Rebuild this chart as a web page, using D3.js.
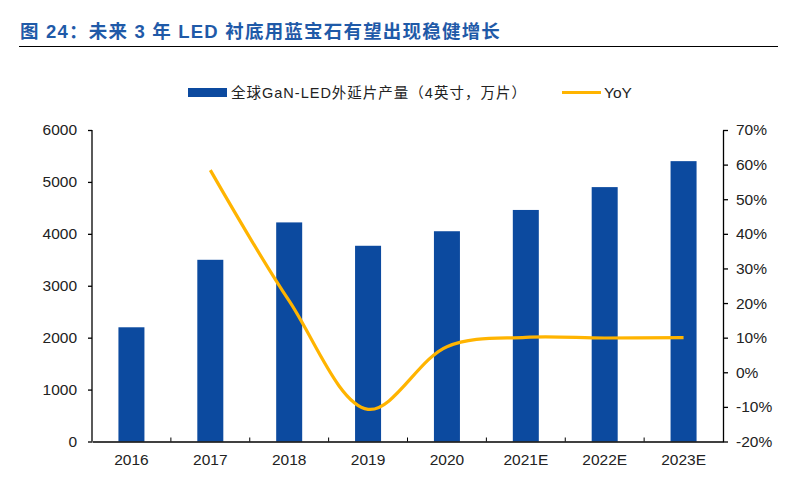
<!DOCTYPE html>
<html><head><meta charset="utf-8">
<script src="https://cdn.jsdelivr.net/npm/d3@7"></script>
<style>body{margin:0;background:#fff;} text{font-family:Arial,"Liberation Sans","Noto Sans CJK SC",sans-serif;}</style>
</head><body><svg id="c" width="795" height="477"></svg>
<script>
const categories = ["2016","2017","2018","2019","2020","2021E","2022E","2023E"];
const output = [2200,3500,4220,3770,4050,4460,4900,5400];
const yoy = [null,58.4,20.6,-10.7,7.4,10.1,9.9,10.0];
const leftTicks = [0,1000,2000,3000,4000,5000,6000];
const rightTicks = [-20,-10,0,10,20,30,40,50,60,70];
const title = "图 24：未来 3 年 LED 衬底用蓝宝石有望出现稳健增长";
const seriesNames = ["全球GaN-LED外延片产量（4英寸，万片）","YoY"];

const svg = d3.select("#c");
const m = {l:92, r:723, t:130, b:441.5};
const xb = d3.scaleBand().domain(categories).range([m.l,m.r]);
const yL = d3.scaleLinear().domain([0,6000]).range([m.b,m.t]);
const yR = d3.scaleLinear().domain([-20,70]).range([m.b,m.t]);

// title
svg.append("text").attr("x",20).attr("y",38).attr("fill","#1F5AA8").attr("font-size",18.5).attr("font-weight","bold")
  .attr("letter-spacing",1.2)
  .attr("font-family","'Noto Sans CJK SC',sans-serif").text(title);
svg.append("line").attr("x1",19).attr("x2",778).attr("y1",46.5).attr("y2",46.5).attr("stroke","#000").attr("stroke-width",1);

// bars
svg.append("g").selectAll("rect").data(output).join("rect")
  .attr("x",(d,i)=>xb(categories[i])+xb.bandwidth()/2-13).attr("width",26)
  .attr("y",d=>yL(d)).attr("height",d=>yL(0)-yL(d)).attr("fill","#0C4A9F");

// axes
const axL = svg.append("g").attr("transform",`translate(${m.l},0)`)
  .call(d3.axisLeft(yL).tickValues(leftTicks).tickSize(4).tickSizeOuter(0).tickFormat(d3.format("d")));
const axR = svg.append("g").attr("transform",`translate(${m.r},0)`)
  .call(d3.axisRight(yR).tickValues(rightTicks).tickSize(5).tickSizeOuter(0).tickFormat(d=>d+"%"));
const axX = svg.append("g").attr("transform",`translate(0,${m.b})`)
  .call(d3.axisBottom(xb).tickSize(0).tickSizeOuter(0));
svg.append("g").selectAll("line").data(categories.slice(1)).join("line")
  .attr("x1",d=>xb(d)).attr("x2",d=>xb(d)).attr("y1",m.b).attr("y2",m.b-4).attr("stroke","#000");
[axL,axR,axX].forEach(a=>{a.selectAll("path,line").attr("stroke","#000").attr("stroke-width",1.3);
  a.selectAll("text").attr("font-size",15.5).attr("fill","#222").attr("font-family","Arial,'Liberation Sans',sans-serif");});
axL.selectAll("text").attr("x",-15);
axR.selectAll("text").attr("x",13);
axX.selectAll("text").attr("dy","1.3em");
axL.select(".domain").attr("d",`M0,${m.t}V${m.b}`);

// line
const pts = yoy.map((v,i)=>[xb(categories[i])+xb.bandwidth()/2, v]).filter(p=>p[1]!==null);
svg.append("path").datum(pts).attr("fill","none").attr("stroke","#FFB400").attr("stroke-width",3.2)
  .attr("d",d3.line().x(p=>p[0]).y(p=>yR(p[1])).curve(d3.curveCatmullRom.alpha(0.5)));

// legend
const lg = svg.append("g");
lg.append("rect").attr("x",188).attr("y",88).attr("width",39).attr("height",9).attr("fill","#0C4A9F");
lg.append("text").attr("x",231).attr("y",98).attr("font-size",14.5).attr("fill","#222").attr("letter-spacing",1)
  .attr("font-family","'Noto Sans CJK SC',sans-serif").text(seriesNames[0]);
lg.append("line").attr("x1",562).attr("x2",601).attr("y1",92.5).attr("y2",92.5).attr("stroke","#FFB400").attr("stroke-width",3);
lg.append("text").attr("x",604).attr("y",98).attr("font-size",15.5).attr("fill","#222").text(seriesNames[1]);
</script></body></html>
